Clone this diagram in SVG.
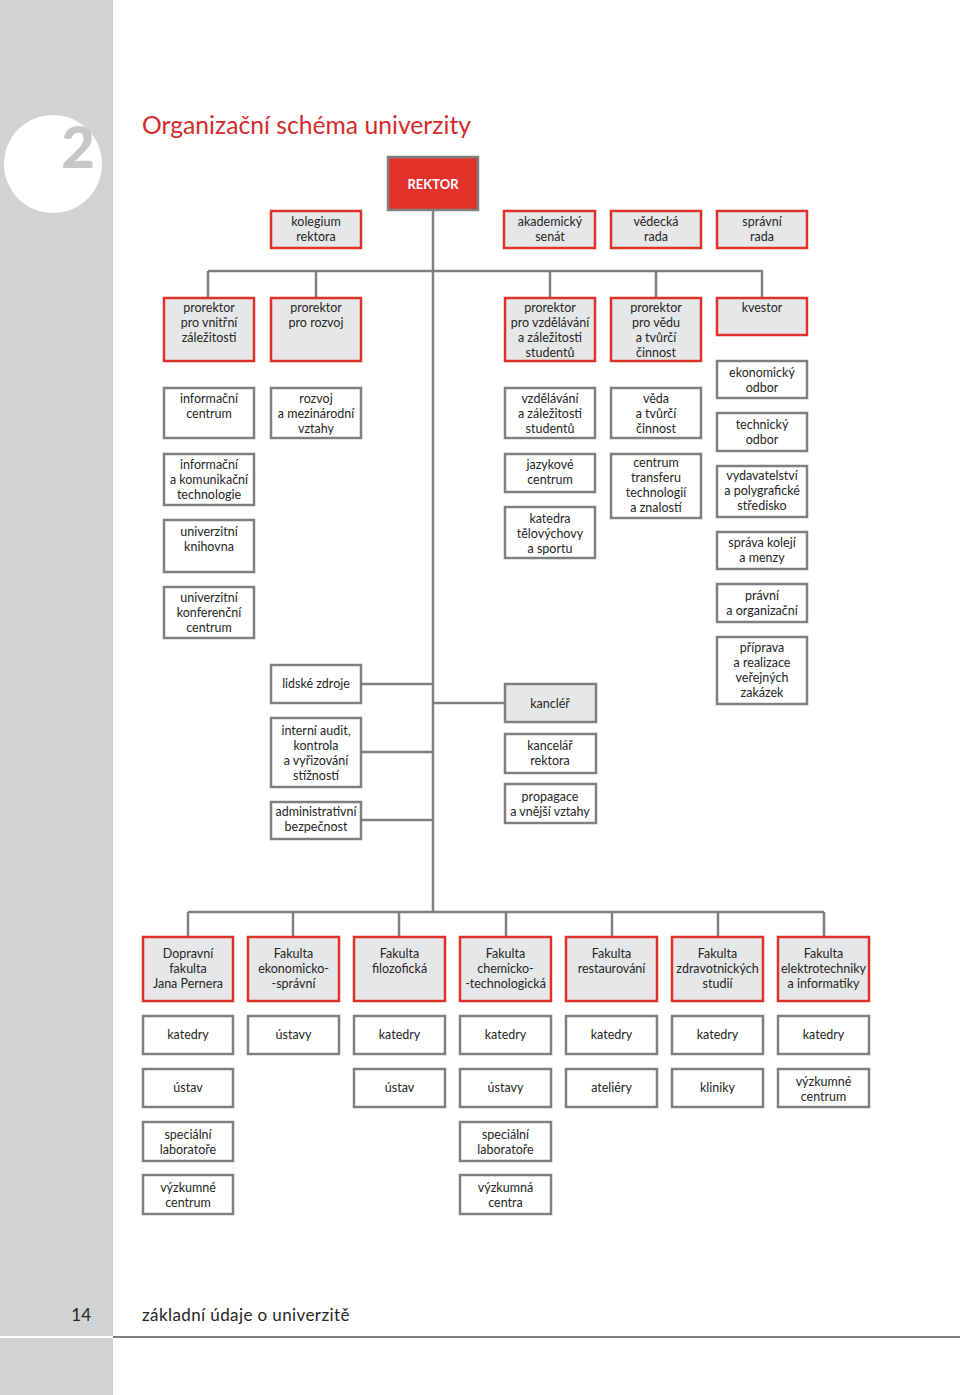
<svg xmlns="http://www.w3.org/2000/svg" width="960" height="1395" viewBox="0 0 960 1395">
<style>
.r{fill:#e6e7e8;stroke:#e0302a;stroke-width:2.5}
.g{fill:#fff;stroke:#7f7f7f;stroke-width:2.5}
.k{fill:#e6e7e8;stroke:#7f7f7f;stroke-width:2.5}
text{font-family:Lato,"Liberation Sans",sans-serif;font-size:12.5px;fill:#262626;text-anchor:middle}
.c{fill:none;stroke:#7f7f7f;stroke-width:2.5}
</style>
<rect x="0" y="0" width="960" height="1395" fill="#fff"/>
<g id="page">
<rect x="0" y="0" width="113" height="1395" fill="#d1d2d4"/>
<circle cx="53" cy="164" r="49" fill="#fff"/>
<text x="78" y="168" style="font-size:58px;font-weight:900;fill:#c6c7c9">2</text>
<rect x="0" y="1336" width="113" height="2" fill="#fff"/>
<line x1="113" y1="1337" x2="960" y2="1337" stroke="#7f7f7f" stroke-width="2"/>
<text x="91" y="1321" style="font-size:17px;text-anchor:end">14</text>
<text x="142" y="1321" style="font-size:17px;text-anchor:start;letter-spacing:0.4px">základní údaje o univerzitě</text>
<text x="142" y="134" style="font-size:24.7px;text-anchor:start;fill:#d52b2b">Organizační schéma univerzity</text>
</g>
<g id="connectors">
<path class="c" d="M433 210V912M208 271H763M208 271V298M316 271V298M550 271V298M656 271V298M762 271V298M362 684H433M362 752H433M362 820H433M433 703H505M188 912H824M188 912V937M293 912V937M399 912V937M506 912V937M612 912V937M718 912V937M824 912V937"/>
</g>
<g id="rektor"><rect x="388" y="157" width="90" height="53" fill="#e3312b" stroke="#7f7f7f" stroke-width="2.5"/><text x="433" y="189" style="font-weight:bold;fill:#fff;font-size:13px">REKTOR</text></g>
<g id="kolegium"><rect class="r" x="271" y="211" width="90" height="37"/><text x="316" y="226">kolegium</text><text x="316" y="241">rektora</text></g>
<g id="senat"><rect class="r" x="504" y="211" width="91" height="37"/><text x="550" y="226">akademický</text><text x="550" y="241">senát</text></g>
<g id="vedecka"><rect class="r" x="611" y="211" width="90" height="37"/><text x="656" y="226">vědecká</text><text x="656" y="241">rada</text></g>
<g id="spravni"><rect class="r" x="717" y="211" width="90" height="37"/><text x="762" y="226">správní</text><text x="762" y="241">rada</text></g>

<g id="pr-vnitrni"><rect class="r" x="164" y="298" width="90" height="63"/><text x="209" y="312">prorektor</text><text x="209" y="327">pro vnitřní</text><text x="209" y="342">záležitosti</text></g>
<g id="pr-rozvoj"><rect class="r" x="271" y="298" width="90" height="63"/><text x="316" y="312">prorektor</text><text x="316" y="327">pro rozvoj</text></g>
<g id="pr-vzdelavani"><rect class="r" x="505" y="298" width="90" height="63"/><text x="550" y="312">prorektor</text><text x="550" y="327">pro vzdělávání</text><text x="550" y="342">a záležitosti</text><text x="550" y="357">studentů</text></g>
<g id="pr-veda"><rect class="r" x="611" y="298" width="90" height="63"/><text x="656" y="312">prorektor</text><text x="656" y="327">pro vědu</text><text x="656" y="342">a tvůrčí</text><text x="656" y="357">činnost</text></g>
<g id="kvestor"><rect class="r" x="717" y="298" width="90" height="37"/><text x="762" y="312">kvestor</text></g>

<g id="info-centrum"><rect class="g" x="164" y="388" width="90" height="50"/><text x="209" y="403">informační</text><text x="209" y="418">centrum</text></g>
<g id="rozvoj"><rect class="g" x="271" y="388" width="90" height="50"/><text x="316" y="403">rozvoj</text><text x="316" y="418">a mezinárodní</text><text x="316" y="433">vztahy</text></g>
<g id="vzdelavani"><rect class="g" x="505" y="388" width="90" height="50"/><text x="550" y="403">vzdělávání</text><text x="550" y="418">a záležitosti</text><text x="550" y="433">studentů</text></g>
<g id="veda"><rect class="g" x="611" y="388" width="90" height="50"/><text x="656" y="403">věda</text><text x="656" y="418">a tvůrčí</text><text x="656" y="433">činnost</text></g>
<g id="ekonomicky"><rect class="g" x="717" y="361" width="90" height="37"/><text x="762" y="377">ekonomický</text><text x="762" y="392">odbor</text></g>
<g id="technicky"><rect class="g" x="717" y="413" width="90" height="38"/><text x="762" y="429">technický</text><text x="762" y="444">odbor</text></g>

<g id="ikt"><rect class="g" x="164" y="454" width="90" height="51"/><text x="209" y="469">informační</text><text x="209" y="484">a komunikační</text><text x="209" y="499">technologie</text></g>
<g id="knihovna"><rect class="g" x="164" y="520" width="90" height="52"/><text x="209" y="536">univerzitní</text><text x="209" y="551">knihovna</text></g>
<g id="konferencni"><rect class="g" x="164" y="587" width="90" height="51"/><text x="209" y="602">univerzitní</text><text x="209" y="617">konferenční</text><text x="209" y="632">centrum</text></g>
<g id="jazykove"><rect class="g" x="505" y="454" width="90" height="38"/><text x="550" y="469">jazykové</text><text x="550" y="484">centrum</text></g>
<g id="telovychova"><rect class="g" x="505" y="507" width="90" height="51"/><text x="550" y="523">katedra</text><text x="550" y="538">tělovýchovy</text><text x="550" y="553">a sportu</text></g>
<g id="transfer"><rect class="g" x="611" y="454" width="90" height="64"/><text x="656" y="467">centrum</text><text x="656" y="482">transferu</text><text x="656" y="497">technologií</text><text x="656" y="512">a znalostí</text></g>
<g id="vydavatelstvi"><rect class="g" x="717" y="466" width="90" height="51"/><text x="762" y="480">vydavatelství</text><text x="762" y="495">a polygrafické</text><text x="762" y="510">středisko</text></g>
<g id="koleje"><rect class="g" x="717" y="532" width="90" height="37"/><text x="762" y="547">správa kolejí</text><text x="762" y="562">a menzy</text></g>
<g id="pravni"><rect class="g" x="717" y="584" width="90" height="38"/><text x="762" y="600">právní</text><text x="762" y="615">a organizační</text></g>
<g id="zakazky"><rect class="g" x="717" y="637" width="90" height="67"/><text x="762" y="652">příprava</text><text x="762" y="667">a realizace</text><text x="762" y="682">veřejných</text><text x="762" y="697">zakázek</text></g>

<g id="lidske-zdroje"><rect class="g" x="271" y="665" width="90" height="38"/><text x="316" y="688">lidské zdroje</text></g>
<g id="audit"><rect class="g" x="271" y="718" width="90" height="69"/><text x="316" y="735">interní audit,</text><text x="316" y="750">kontrola</text><text x="316" y="765">a vyřizování</text><text x="316" y="780">stížností</text></g>
<g id="bezpecnost"><rect class="g" x="271" y="802" width="90" height="37"/><text x="316" y="816">administrativní</text><text x="316" y="831">bezpečnost</text></g>
<g id="kancler"><rect class="k" x="505" y="684" width="91" height="38"/><text x="550" y="708">kancléř</text></g>
<g id="kancelar"><rect class="g" x="505" y="734" width="91" height="39"/><text x="550" y="750">kancelář</text><text x="550" y="765">rektora</text></g>
<g id="propagace"><rect class="g" x="505" y="784" width="91" height="39"/><text x="550" y="801">propagace</text><text x="550" y="816">a vnější vztahy</text></g>

<g id="f-dopravni"><rect class="r" x="143" y="937" width="90" height="64"/><text x="188" y="958">Dopravní</text><text x="188" y="973">fakulta</text><text x="188" y="988">Jana Pernera</text></g>
<g id="f-ekonomicka"><rect class="r" x="248" y="937" width="91" height="64"/><text x="293.5" y="958">Fakulta</text><text x="293.5" y="973">ekonomicko-</text><text x="293.5" y="988">-správní</text></g>
<g id="f-filozoficka"><rect class="r" x="354" y="937" width="91" height="64"/><text x="399.5" y="958">Fakulta</text><text x="399.5" y="973">filozofická</text></g>
<g id="f-chemicka"><rect class="r" x="460" y="937" width="91" height="64"/><text x="505.5" y="958">Fakulta</text><text x="505.5" y="973">chemicko-</text><text x="505.5" y="988">-technologická</text></g>
<g id="f-restaurovani"><rect class="r" x="566" y="937" width="91" height="64"/><text x="611.5" y="958">Fakulta</text><text x="611.5" y="973">restaurování</text></g>
<g id="f-zdravotnicka"><rect class="r" x="672" y="937" width="91" height="64"/><text x="717.5" y="958">Fakulta</text><text x="717.5" y="973">zdravotnických</text><text x="717.5" y="988">studií</text></g>
<g id="f-elektro"><rect class="r" x="778" y="937" width="91" height="64"/><text x="823.5" y="958">Fakulta</text><text x="823.5" y="973">elektrotechniky</text><text x="823.5" y="988">a informatiky</text></g>

<g id="d1-katedry"><rect class="g" x="143" y="1016" width="90" height="38"/><text x="188" y="1039">katedry</text></g>
<g id="d2-ustavy"><rect class="g" x="248" y="1016" width="91" height="38"/><text x="293.5" y="1039">ústavy</text></g>
<g id="d3-katedry"><rect class="g" x="354" y="1016" width="91" height="38"/><text x="399.5" y="1039">katedry</text></g>
<g id="d4-katedry"><rect class="g" x="460" y="1016" width="91" height="38"/><text x="505.5" y="1039">katedry</text></g>
<g id="d5-katedry"><rect class="g" x="566" y="1016" width="91" height="38"/><text x="611.5" y="1039">katedry</text></g>
<g id="d6-katedry"><rect class="g" x="672" y="1016" width="91" height="38"/><text x="717.5" y="1039">katedry</text></g>
<g id="d7-katedry"><rect class="g" x="778" y="1016" width="91" height="38"/><text x="823.5" y="1039">katedry</text></g>

<g id="d1-ustav"><rect class="g" x="143" y="1069" width="90" height="38"/><text x="188" y="1092">ústav</text></g>
<g id="d3-ustav"><rect class="g" x="354" y="1069" width="91" height="38"/><text x="399.5" y="1092">ústav</text></g>
<g id="d4-ustavy"><rect class="g" x="460" y="1069" width="91" height="38"/><text x="505.5" y="1092">ústavy</text></g>
<g id="d5-ateliery"><rect class="g" x="566" y="1069" width="91" height="38"/><text x="611.5" y="1092">ateliéry</text></g>
<g id="d6-kliniky"><rect class="g" x="672" y="1069" width="91" height="38"/><text x="717.5" y="1092">kliniky</text></g>
<g id="d7-vyzkumne"><rect class="g" x="778" y="1069" width="91" height="38"/><text x="823.5" y="1086">výzkumné</text><text x="823.5" y="1101">centrum</text></g>

<g id="d1-laboratore"><rect class="g" x="143" y="1122" width="90" height="39"/><text x="188" y="1139">speciální</text><text x="188" y="1154">laboratoře</text></g>
<g id="d4-laboratore"><rect class="g" x="460" y="1122" width="91" height="39"/><text x="505.5" y="1139">speciální</text><text x="505.5" y="1154">laboratoře</text></g>
<g id="d1-vyzkumne"><rect class="g" x="143" y="1175" width="90" height="39"/><text x="188" y="1192">výzkumné</text><text x="188" y="1207">centrum</text></g>
<g id="d4-vyzkumna"><rect class="g" x="460" y="1175" width="91" height="39"/><text x="505.5" y="1192">výzkumná</text><text x="505.5" y="1207">centra</text></g>
</svg>
